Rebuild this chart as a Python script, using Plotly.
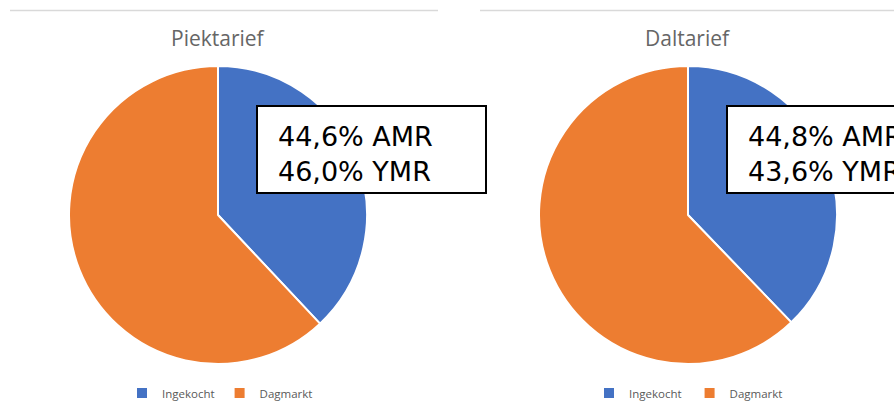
import plotly.graph_objects as go

W, H = 894, 410

labels_piek = ["Ingekocht", "Dagmarkt"]
labels_dal = ["Ingekocht ", "Dagmarkt "]
piek_values = [38.0, 62.0]
dal_values = [37.8, 62.2]
titles = ["Piektarief", "Daltarief"]
box_texts = ["44,6% AMR<br>46,0% YMR", "44,8% AMR<br>43,6% YMR"]
colors = ["#4472C4", "#ED7D31"]

def px_x(x):
    return x / W

def px_y(y):
    return 1 - y / H

fig = go.Figure()

R = 149
centers = [(218, 215), (688, 215)]
for i, (labs, vals, (cx, cy)) in enumerate(zip([labels_piek, labels_dal], [piek_values, dal_values], centers)):
    fig.add_trace(go.Pie(
        labels=labs, values=vals, sort=False, direction="clockwise", rotation=0,
        marker=dict(colors=colors, line=dict(color="white", width=2)),
        textinfo="none", hoverinfo="label+percent",
        domain=dict(x=[px_x(cx - R), px_x(cx + R)], y=[px_y(cy + R), px_y(cy - R)]),
        legend="legend" if i == 0 else "legend2",
    ))

legend_common = dict(orientation="h", xanchor="center", yanchor="middle", y=px_y(393),
                     font=dict(family="Open Sans", size=11.5, color="#595959"),
                     bgcolor="rgba(0,0,0,0)", itemwidth=30, tracegroupgap=0)

fig.update_layout(
    width=W, height=H, margin=dict(l=0, r=0, t=0, b=0),
    paper_bgcolor="white", plot_bgcolor="white",
    legend=dict(x=px_x(220), **legend_common),
    legend2=dict(x=px_x(690), **legend_common),
)

# top gray separator lines
fig.add_shape(type="line", xref="paper", yref="paper", x0=px_x(10), x1=px_x(438),
              y0=px_y(10.5), y1=px_y(10.5), line=dict(color="#d9d9d9", width=1.5))
fig.add_shape(type="line", xref="paper", yref="paper", x0=px_x(480), x1=px_x(894),
              y0=px_y(10.5), y1=px_y(10.5), line=dict(color="#d9d9d9", width=1.5))

# titles
for t, (cx, cy) in zip(titles, centers):
    fig.add_annotation(text=t, xref="paper", yref="paper", x=px_x(cx), y=px_y(38),
                       xanchor="center", yanchor="middle", showarrow=False,
                       font=dict(family="Open Sans", size=21, color="#666666"))

# text boxes
boxes = [(257, 486), (727, 956)]
for txt, (x0, x1) in zip(box_texts, boxes):
    fig.add_shape(type="rect", xref="paper", yref="paper", layer="above",
                  x0=px_x(x0), x1=px_x(x1), y0=px_y(193), y1=px_y(106),
                  fillcolor="white", line=dict(color="black", width=2))
    fig.add_annotation(text=txt, xref="paper", yref="paper", x=px_x(x0 + 19), y=px_y(154),
                       xanchor="left", yanchor="middle", showarrow=False, align="left",
                       font=dict(family="DejaVu Sans", size=27, color="black"))

fig.write_html("out.html", post_script="document.body.style.margin='0';",
               config={"displayModeBar": False})
